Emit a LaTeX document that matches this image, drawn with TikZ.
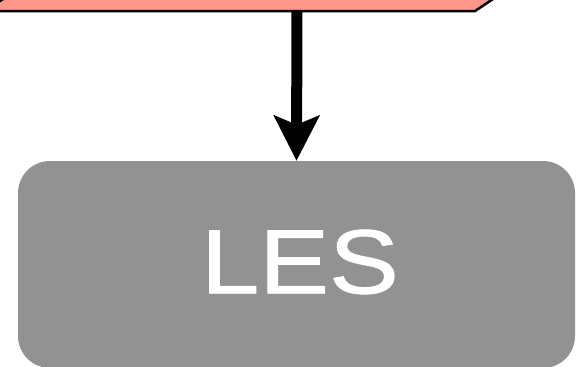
\documentclass[tikz,border=0pt]{standalone}
\usepackage{fontspec}
\setmainfont{Liberation Sans}
\usetikzlibrary{arrows.meta}
\definecolor{pinkfill}{RGB}{255,150,140}
\definecolor{boxgray}{RGB}{146,146,146}
\font\lesfnt="Liberation Sans:embolden=1" at 91pt
\begin{document}
\begin{tikzpicture}[x=1pt,y=-1pt,
  lesbox/.style={rectangle, rounded corners=32pt, fill=boxgray, draw=none, minimum width=557pt, minimum height=207pt, inner sep=0pt, text=white, font=\lesfnt, text depth=6pt},
  flow/.style={line width=11pt, -{Stealth[length=45pt,width=45pt,inset=9pt]}},
  srcshape/.style={fill=pinkfill, draw=black, line width=2.5pt, line join=miter}]
\useasboundingbox (0,0) rectangle (576,367);
\clip (0,0) rectangle (576,367);
\node[lesbox] (les) at (296.5,264.5) {\hspace*{7pt}\scalebox{1.15}[1]{LES}};
\coordinate (src) at (297,11);
\draw[flow] (src) -- (les.north);
\draw[srcshape] (-15,11) -- (475,11) -- (565,-49) -- (75,-49) -- cycle;
\end{tikzpicture}
\end{document}
